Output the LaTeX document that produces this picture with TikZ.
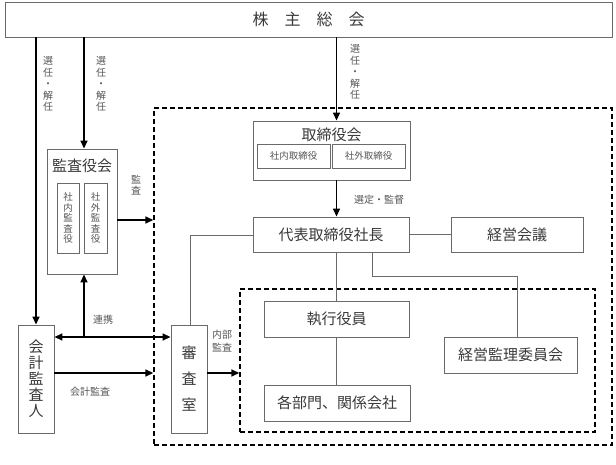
\documentclass[tikz,border=0pt]{standalone}
\usepackage{fontspec}
\setmainfont{Noto Sans CJK JP}
\usetikzlibrary{arrows.meta}
\definecolor{bordc}{HTML}{6A6A6A}
\definecolor{txtc}{HTML}{3A3A3A}
\definecolor{lblc}{HTML}{555555}
\tikzset{
  box/.style={draw=bordc, line width=0.9pt, fill=white, text=txtc, inner sep=0pt,
    font=\fontsize{15}{17}\selectfont},
  sbox/.style={draw=bordc, line width=0.8pt, fill=white, text=lblc, inner sep=0pt,
    font=\fontsize{9.5}{10.5}\selectfont},
  lbl/.style={text=lblc, inner sep=0pt, font=\fontsize{10}{11.5}\selectfont, align=center},
  arr/.style={line width=1.6pt, -{Triangle[length=8pt,width=7pt]}},
  darr/.style={line width=1.6pt, {Triangle[length=8pt,width=7pt]}-{Triangle[length=8pt,width=7pt]}},
  ln/.style={draw=bordc, line width=1pt},
  dbox/.style={draw=black, line width=1.4pt, dash pattern=on 5pt off 3pt, inner sep=0pt}
}
\begin{document}
\begin{tikzpicture}[x=1pt,y=-1pt]
\useasboundingbox (0,0) rectangle (616,465);
% dashed frames
\node[dbox, minimum width=458pt, minimum height=337pt] (outer) at (383,276.5) {};
\node[dbox, minimum width=355pt, minimum height=143pt] (inner) at (417.5,360.5) {};
% boxes
\node[box, minimum width=607pt, minimum height=35pt, font=\fontsize{16}{18}\selectfont] (soukai) at (308.5,19.5) {株\hspace{1em}主\hspace{1em}総\hspace{1em}会};
\node[box, minimum width=70pt, minimum height=125pt] (kansa) at (82,211.5) {};
\node[text=txtc, inner sep=0pt, font=\fontsize{15}{17}\selectfont] (kansat) at (82,166) {監査役会};
\node[sbox, minimum width=22pt, minimum height=70pt, align=center] (skn) at (68,218) {社\\内\\監\\査\\役};
\node[sbox, minimum width=23pt, minimum height=70pt, align=center] (skg) at (95.5,218) {社\\外\\監\\査\\役};
\node[box, minimum width=36pt, minimum height=108pt, align=center, font=\fontsize{15}{16}\selectfont] (kaikei) at (36,379) {会\\計\\監\\査\\人};
\node[box, minimum width=36pt, minimum height=108pt, align=center, font=\fontsize{15}{26}\selectfont] (shinsa) at (189,379) {審\\査\\室};
\node[box, minimum width=157pt, minimum height=59pt] (tori) at (331.5,150.5) {};
\node[text=txtc, inner sep=0pt, font=\fontsize{15}{17}\selectfont] (torit) at (331.5,135) {取締役会};
\node[sbox, minimum width=73pt, minimum height=24pt] (stn) at (293.5,156) {社内取締役};
\node[sbox, minimum width=73pt, minimum height=24pt] (stg) at (368.5,156) {社外取締役};
\node[box, minimum width=156pt, minimum height=35pt] (ceo) at (331,234.5) {代表取締役社長};
\node[box, minimum width=132pt, minimum height=35pt] (keiei) at (517,234.5) {経営会議};
\node[box, minimum width=145pt, minimum height=36pt] (shikko) at (336.5,319) {執行役員};
\node[box, minimum width=146pt, minimum height=36pt] (bumon) at (337,403) {各部門、関係会社};
\node[box, minimum width=133pt, minimum height=36pt] (kanri) at (510.5,355) {経営監理委員会};
% labels
\node[lbl] (l1) at (48,84) {選\\任\\・\\解\\任};
\node[lbl] (l2) at (101,84) {選\\任\\・\\解\\任};
\node[lbl] (l3) at (355,72) {選\\任\\・\\解\\任};
\node[lbl] (l4) at (136,185) {監\\査};
\node[lbl] (l5) at (379,200) {選定・監督};
\node[lbl] (l6) at (103,320) {連携};
\node[lbl] (l7) at (90,392) {会計監査};
\node[lbl, font=\fontsize{10}{13}\selectfont] (l8) at (222,341) {内部\\監査};
% coordinates
\coordinate (c84) at (84,337);
\coordinate (c190) at (190,236);
\coordinate (c372a) at (372,277);
\coordinate (c517) at (517,277);
% arrows
\draw[arr] (soukai.south -| kaikei.north) -- (kaikei.north);
\draw[arr] (soukai.south -| c84) -- (kansa.north -| c84);
\draw[arr] (soukai.south -| shikko.north) -- (tori.north -| shikko.north);
\draw[arr] (tori.south -| shikko.north) -- (ceo.north -| shikko.north);
\draw[arr] (kansa.east |- 0,220) -- (outer.west |- 0,220);
\draw[darr] (kaikei.east |- c84) -- (shinsa.west |- c84);
\draw[arr] (c84) -- (kansa.south -| c84);
\draw[arr] (kaikei.east |- 0,373) -- (outer.west |- 0,373);
\draw[arr] (shinsa.east |- 0,373) -- (inner.west |- 0,373);
% plain lines
\draw[ln] (ceo.west |- c190) -- (c190) -- (shinsa.north -| c190);
\draw[ln] (ceo.east) -- (keiei.west);
\draw[ln] (ceo.south -| shikko.north) -- (shikko.north);
\draw[ln] (shikko.south -| shikko.north) -- (bumon.north -| shikko.north);
\draw[ln] (ceo.south -| c372a) -- (c372a) -- (c517) -- (kanri.north -| c517);
\end{tikzpicture}
\end{document}
